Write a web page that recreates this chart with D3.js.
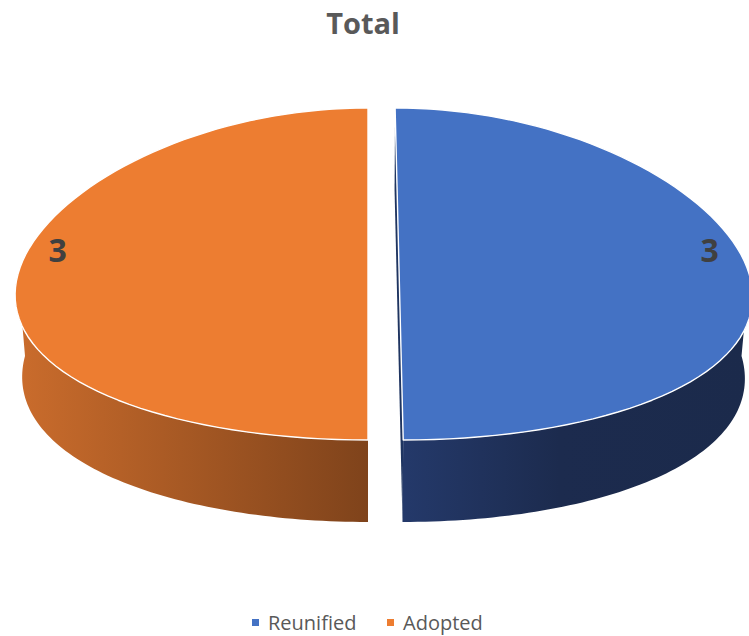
<!DOCTYPE html>
<html>
<head>
<meta charset="utf-8">
<script src="https://cdn.jsdelivr.net/npm/d3@7"></script>
<style>
  body { margin: 0; background: #fff; }
  svg { display: block; font-family: "Open Sans", sans-serif; }
</style>
</head>
<body>
<svg id="chart" width="749" height="636"></svg>
<script>
/************************************ Data *******************************/
var categories = ["Reunified", "Adopted"];
var values = [3, 3];
var labels = ["3", "3"];
var colors = ["#4472c4", "#ed7d31"];

/************************************ Setup *******************************/
var W = 749, H = 636;
var cx = 368, cy = 274, rx = 350, ry = 166, depth = 82;
var persp = 0.13;           // x scale grows toward the front
var explode = [0.089, 0];   // only Reunified is pulled out

var svg = d3.select("#chart");
var defs = svg.append("defs");

// side shading, darker toward the cut
function sideGrad(id, x1, x2, stops) {
	var g = defs.append("linearGradient").attr("id", id)
		.attr("gradientUnits", "userSpaceOnUse")
		.attr("x1", x1).attr("x2", x2).attr("y1", 0).attr("y2", 0);
	stops.forEach(function(s) {
		g.append("stop").attr("offset", s[0]).attr("stop-color", s[1]);
	});
}
sideGrad("side0", 404, 749, [[0, "#24396a"], [0.45, "#1c2b4e"], [1, "#1b2a4b"]]);
sideGrad("side1", 18, 368, [[0, "#ca6c2c"], [1, "#7f431b"]]);

// angle on the pie plane -> screen point (h: 0 top face, 1 bottom face)
function pt(theta, h, ex) {
	var X = Math.cos(theta) + ex, Z = Math.sin(theta);
	var s = (1 + persp * Z) * (1 - 0.02 * h);
	return [cx + X * rx * s, cy + Z * ry + h * depth];
}
function arcPts(a0, a1, h, ex) {
	var n = 80, out = [];
	for (var i = 0; i <= n; i++) out.push(pt(a0 + (a1 - a0) * i / n, h, ex));
	return out;
}

var pie = d3.pie().sort(null).value(function(d) { return d; });
var slices = pie(values).map(function(d, i) {
	// d3 angles start at 12 o'clock, clockwise
	return { i: i, t0: d.startAngle - Math.PI / 2, t1: d.endAngle - Math.PI / 2, ex: explode[i] };
});

var line = d3.line();

/************************************ Sides *******************************/
slices.forEach(function(s) {
	// front part of the rim only (sin > 0)
	var a0 = Math.max(s.t0, 0), a1 = Math.min(s.t1, Math.PI);
	if (a1 <= a0) return;
	var p = arcPts(a0, a1, 0, s.ex).concat(arcPts(a1, a0, 1, s.ex));
	svg.append("path").attr("d", line(p) + "Z")
		.attr("fill", "url(#side" + s.i + ")");
});

// cut face of the pulled-out slice, seen edge-on
slices.forEach(function(s) {
	if (!s.ex) return;
	var p = [pt(s.t0, 0, s.ex), pt(s.t1, 0, s.ex), pt(s.t1, 1, s.ex), pt(s.t0, 1, s.ex)];
	svg.append("path").attr("d", line(p) + "Z").attr("fill", "#1f3561");
});

/************************************ Tops *******************************/
slices.forEach(function(s) {
	var p = arcPts(s.t0, s.t1, 0, s.ex);
	svg.append("path").attr("d", line(p) + "Z")
		.attr("fill", colors[s.i])
		.attr("stroke", "#fff").attr("stroke-width", 1.4)
		.attr("stroke-linejoin", "round");
});

/************************************ Labels *******************************/
slices.forEach(function(s) {
	var mid = (s.t0 + s.t1) / 2;
	var x = cx + (Math.cos(mid) * 0.887 + s.ex) * rx;
	svg.append("text")
		.attr("x", x).attr("y", cy - 12)
		.attr("text-anchor", "middle")
		.attr("font-size", 32).attr("font-weight", "bold")
		.attr("fill", "#404040")
		.text(labels[s.i]);
});

svg.append("text")
	.attr("x", 363).attr("y", 34)
	.attr("text-anchor", "middle")
	.attr("font-size", 29).attr("font-weight", "bold")
	.attr("fill", "#595959")
	.text("Total");

/************************************ Legend *******************************/
var legX = [252, 387];
var leg = svg.selectAll(".leg").data(categories).enter().append("g")
	.attr("class", "leg")
	.attr("transform", function(d, i) { return "translate(" + legX[i] + ",619)"; });
leg.append("rect").attr("width", 7).attr("height", 7)
	.attr("fill", function(d, i) { return colors[i]; });
leg.append("text").attr("x", 16).attr("y", 10.5)
	.attr("font-size", 20).attr("fill", "#595959")
	.text(function(d) { return d; });
</script>
</body>
</html>
